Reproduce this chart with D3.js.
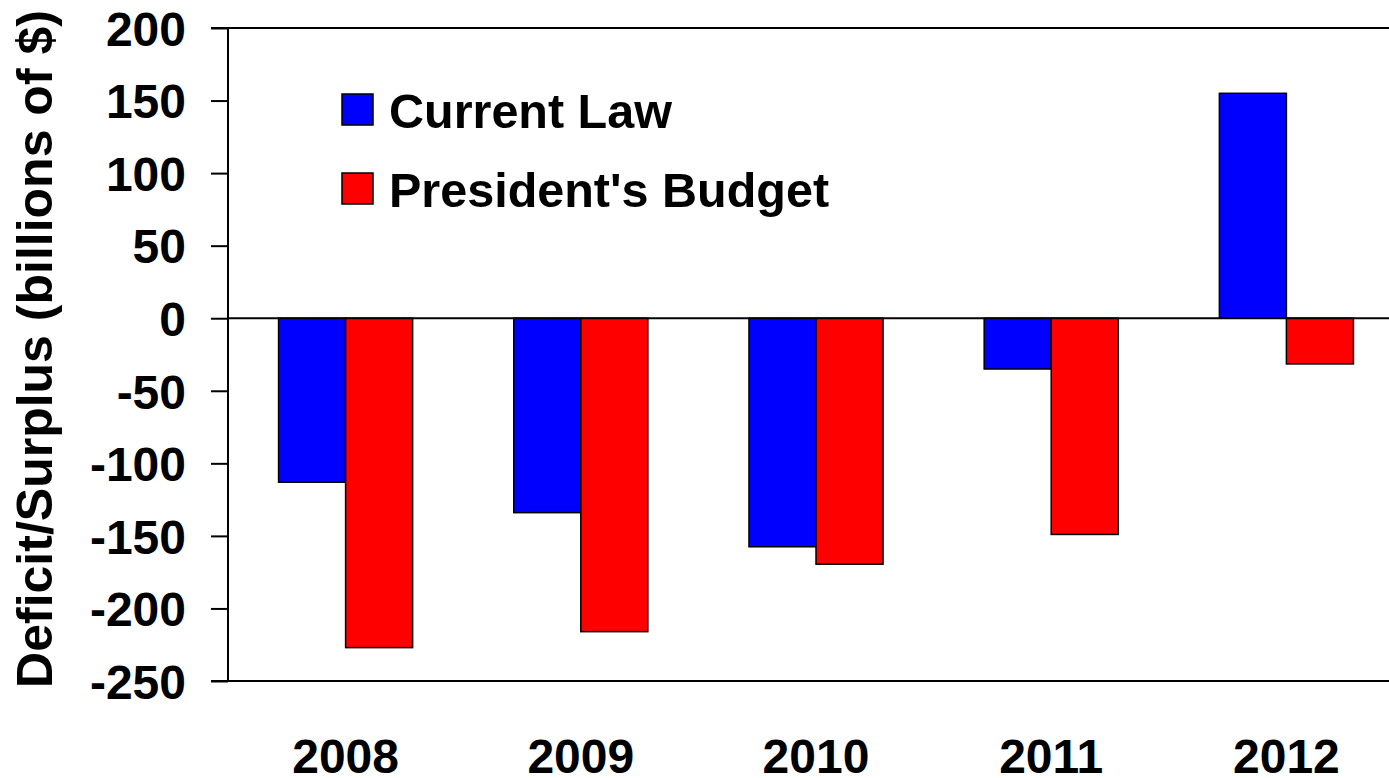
<!DOCTYPE html>
<html>
<head>
<meta charset="utf-8">
<script src="https://cdn.jsdelivr.net/npm/d3@7"></script>
<style>
  html, body { margin: 0; padding: 0; background: #fff; }
  svg { display: block; }
  text { font-family: "Liberation Sans", Arial, sans-serif; font-weight: bold; fill: #000; }
</style>
</head>
<body>
<svg id="chart" width="1389" height="778"></svg>
<script>
// Fiscal years on the x axis
const years = ["2008", "2009", "2010", "2011", "2012"];
// Deficit (-) / surplus (+), billions of dollars
const currentLaw = [-113, -134, -157.5, -35, 155];
const presidentsBudget = [-227, -216, -169.5, -149, -31.5];
const seriesNames = ["Current Law", "President's Budget"];
const seriesColors = ["#0000ff", "#ff0000"];
const yTicks = [200, 150, 100, 50, 0, -50, -100, -150, -200, -250];
const yTitle = "Deficit/Surplus (billions of $)";

const svg = d3.select("#chart");
const plotLeft = 228, plotRight = 1404, plotTop = 28, plotBottom = 681;

const x = d3.scaleBand().domain(years).range([plotLeft, plotRight]).paddingInner(0.43).paddingOuter(0.215);
const inner = d3.scaleBand().domain(seriesNames).range([0, x.bandwidth()]);
const y = d3.scaleLinear().domain([-250, 200]).range([plotBottom, plotTop]);

// Frame: top and bottom rules, extending over the tick area
svg.append("line").attr("x1", 211).attr("x2", 1389).attr("y1", y(200)).attr("y2", y(200))
  .attr("stroke", "#000").attr("stroke-width", 2);
svg.append("line").attr("x1", 211).attr("x2", 1389).attr("y1", y(-250)).attr("y2", y(-250))
  .attr("stroke", "#000").attr("stroke-width", 2);

// Bars
const rows = years.map((yr, i) => ({ year: yr, values: [currentLaw[i], presidentsBudget[i]] }));
const g = svg.append("g").selectAll("g").data(rows).join("g")
  .attr("transform", d => `translate(${x(d.year)},0)`);
g.selectAll("rect").data(d => d.values.map((v, k) => ({ v, k })))
  .join("rect")
  .attr("x", d => inner(seriesNames[d.k]))
  .attr("width", inner.bandwidth())
  .attr("y", d => y(Math.max(0, d.v)))
  .attr("height", d => Math.abs(y(d.v) - y(0)))
  .attr("fill", d => seriesColors[d.k])
  .attr("stroke", "#000").attr("stroke-width", 1.5);

// Zero line
svg.append("line").attr("x1", plotLeft).attr("x2", 1389).attr("y1", y(0)).attr("y2", y(0))
  .attr("stroke", "#000").attr("stroke-width", 2);

// Y axis
const yAxis = d3.axisLeft(y).tickValues(yTicks).tickSize(17).tickPadding(25).tickFormat(d3.format("d"));
const ya = svg.append("g").attr("transform", `translate(${plotLeft},0)`).call(yAxis);
ya.select(".domain").attr("stroke", "#000").attr("stroke-width", 2).attr("d", `M0,${plotTop}V${plotBottom}`);
ya.selectAll(".tick line").attr("stroke", "#000").attr("stroke-width", 2);
ya.selectAll(".tick text").style("font-size", "48px").attr("dy", "0.36em")
  .style("font-family", "'Liberation Sans', Arial, sans-serif").style("font-weight", "bold")
  .text(d => d < 0 ? "-" + Math.abs(d) : d);

// X labels
const xAxis = d3.axisBottom(x).tickSize(0).tickPadding(0);
const xa = svg.append("g").attr("transform", `translate(0,${plotBottom})`).call(xAxis);
xa.select(".domain").remove();
xa.selectAll(".tick text").attr("y", 92).attr("dy", 0).style("font-size", "48px")
  .style("font-family", "'Liberation Sans', Arial, sans-serif").style("font-weight", "bold");

// Y title
svg.append("text")
  .attr("transform", "translate(52,349) rotate(-90)")
  .attr("text-anchor", "middle")
  .style("font-size", "50px")
  .text(yTitle);

// Legend
const legend = svg.append("g");
seriesNames.forEach((name, k) => {
  const cy = 110 + k * 79;
  legend.append("rect").attr("x", 342).attr("y", cy - 16).attr("width", 31).attr("height", 31)
    .attr("fill", seriesColors[k]).attr("stroke", "#000").attr("stroke-width", 1.5);
  legend.append("text").attr("x", 389).attr("y", cy + 18).style("font-size", "48.5px").text(name);
});
</script>
</body>
</html>
